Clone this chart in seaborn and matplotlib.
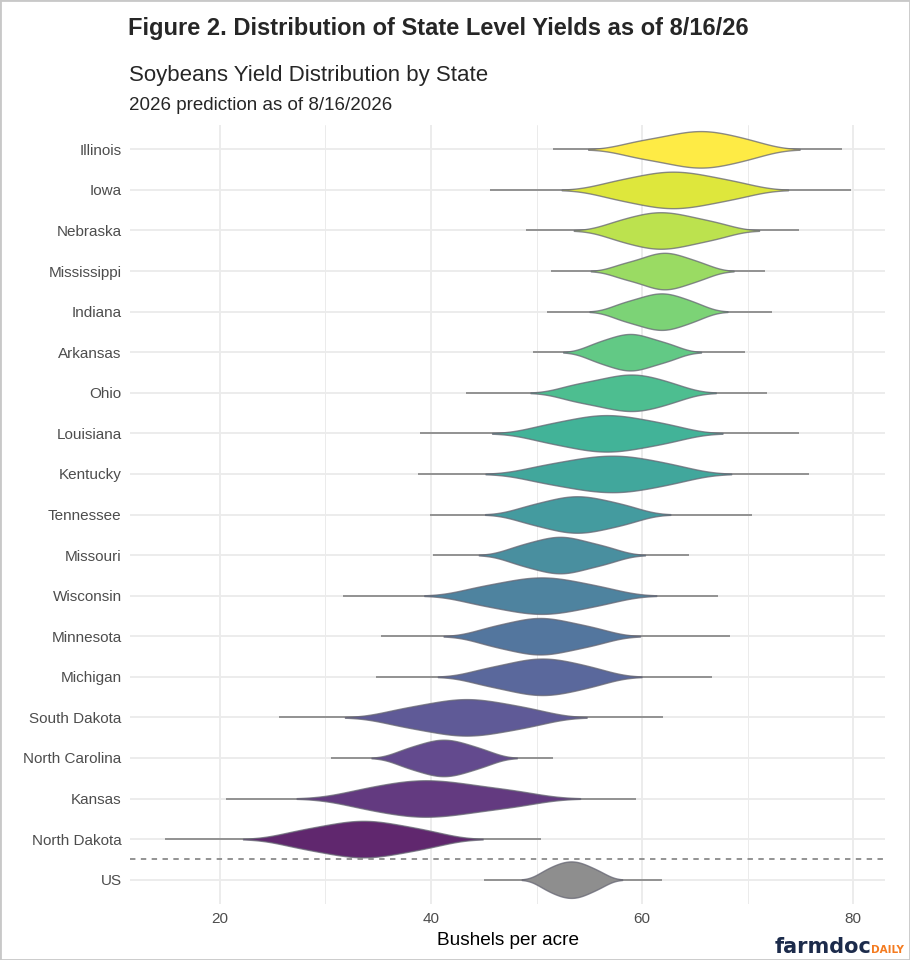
import numpy as np
import pandas as pd
import seaborn as sns
import matplotlib.pyplot as plt
from matplotlib.patches import Rectangle

states = ["Illinois", "Iowa", "Nebraska", "Mississippi", "Indiana", "Arkansas",
          "Ohio", "Louisiana", "Kentucky", "Tennessee", "Missouri", "Wisconsin",
          "Minnesota", "Michigan", "South Dakota", "North Carolina", "Kansas",
          "North Dakota", "US"]

# lowest / highest yield of each state (thin tail of the violin)
tail_lo = [51.6, 45.6, 49.0, 51.4, 51.0, 49.7, 43.3, 39.0, 38.8, 39.9,
           40.2, 31.7, 35.3, 34.8, 25.6, 30.5, 20.6, 14.8, 45.0]
tail_hi = [78.9, 79.8, 74.9, 71.6, 72.3, 69.7, 71.8, 74.9, 75.8, 70.4,
           64.4, 67.2, 68.3, 66.6, 62.0, 51.6, 59.4, 50.4, 61.9]

# yields
body_pts = [
    [59.3, 61.7, 63.4, 64.7, 65.8, 67.0, 68.4, 70.5],  # Illinois
    [57.1, 59.5, 61.1, 62.4, 63.6, 65.0, 66.6, 69.1],  # Iowa
    [57.4, 59.2, 60.5, 61.5, 62.5, 63.7, 65.1, 67.2],  # Nebraska
    [58.1, 59.8, 60.9, 61.7, 62.4, 63.2, 64.2, 65.7],  # Mississippi
    [57.9, 59.4, 60.5, 61.3, 62.1, 62.8, 63.8, 65.2],  # Indiana
    [55.4, 56.8, 57.8, 58.6, 59.3, 60.1, 61.2, 62.7],  # Arkansas
    [53.3, 55.4, 56.9, 58.1, 59.1, 60.1, 61.3, 63.1],  # Ohio
    [50.6, 53.1, 54.7, 56.1, 57.3, 58.7, 60.4, 62.8],  # Louisiana
    [50.3, 53.0, 54.8, 56.2, 57.8, 59.0, 60.8, 63.3],  # Kentucky
    [49.0, 51.0, 52.3, 53.4, 54.4, 55.5, 56.9, 58.8],  # Tennessee
    [48.0, 49.7, 50.9, 51.9, 52.7, 53.7, 55.0, 56.8],  # Missouri
    [44.2, 46.7, 48.4, 49.8, 51.0, 52.4, 54.0, 56.5],  # Wisconsin
    [45.3, 47.3, 48.8, 49.9, 50.9, 52.1, 53.6, 55.7],  # Minnesota
    [44.9, 47.2, 48.7, 49.9, 51.0, 52.2, 53.6, 55.7],  # Michigan
    [36.9, 39.5, 41.3, 42.7, 44.0, 45.4, 47.2, 49.7],  # South Dakota
    [37.4, 38.9, 40.0, 40.8, 41.6, 42.5, 43.5, 45.1],  # North Carolina
    [33.2, 35.9, 37.8, 39.3, 40.8, 42.7, 44.9, 48.2],  # Kansas
    [27.2, 29.8, 31.5, 33.0, 34.2, 35.6, 37.4, 39.9],  # North Dakota
    [50.7, 51.7, 52.4, 53.0, 53.6, 54.2, 54.9, 56.0],  # US
]

df = pd.DataFrame({
    "state": np.repeat(states, [len(p) for p in body_pts]),
    "yield": np.concatenate(body_pts),
})

# full viridis range (yellow top, purple bottom), alpha ~0.85 on white, US grey
vir = plt.get_cmap("viridis")(np.linspace(1, 0, len(states) - 1))[:, :3]
fills = [tuple(0.85 * c + 0.15) for c in vir] + ["#8e8e8e"]
pal = dict(zip(states, fills))

sns.set_theme(style="whitegrid")
plt.rcParams["font.family"] = ["Liberation Sans", "DejaVu Sans"]

fig = plt.figure(figsize=(9.1, 9.6), dpi=100)
ax = fig.add_axes([130 / 910, 1 - 904 / 960, 755 / 910, 779 / 960])

ax.hlines(range(len(states)), tail_lo, tail_hi, color="#7a7a7a", lw=1.1, zorder=0.9)

sns.violinplot(data=df, x="yield", y="state", order=states, hue="state",
               palette=pal, legend=False, density_norm="width", width=0.9,
               inner=None, cut=2.3, bw_adjust=0.8, saturation=1,
               linecolor=(0.4, 0.4, 0.45, 0.75), linewidth=1, ax=ax)

ax.axhline(17.5, color="#8a8a8a", lw=1.3, ls=(0, (3, 3)))

ax.set_xlim(11.5, 83.0)
ax.set_ylim(18.6, -0.6)
ax.set_xticks([20, 40, 60, 80])
ax.set_xticks([30, 50, 70], minor=True)
ax.grid(which="major", color="#ebebeb", lw=1.3)
ax.grid(which="minor", axis="x", color="#ebebeb", lw=0.7)
ax.set_axisbelow(True)
for s in ax.spines.values():
    s.set_visible(False)
ax.tick_params(which="both", length=0, labelsize=11, labelcolor="#4d4d4d")
ax.tick_params(axis="y", pad=6)
ax.tick_params(axis="x", pad=6)
ax.set_ylabel("")
ax.set_xlabel("Bushels per acre", fontsize=13.7, color="black", labelpad=4)

fig.text(438 / 910, 1 - 29 / 960, "Figure 2. Distribution of State Level Yields as of 8/16/26",
         ha="center", va="center", fontsize=17, weight="bold")
fig.text(129 / 910, 1 - 76 / 960, "Soybeans Yield Distribution by State",
         ha="left", va="center", fontsize=16)
fig.text(129 / 910, 1 - 105 / 960, "2026 prediction as of 8/16/2026",
         ha="left", va="center", fontsize=13.5)

# farmdocDAILY logo, right aligned
t2 = fig.text(904 / 910, 1 - 953 / 960, "DAILY", family="DejaVu Sans",
              weight="bold", fontsize=7.5, color="#f47b20", ha="right", va="baseline")
fig.canvas.draw()
bb = t2.get_window_extent()
fig.text(bb.x0 / 910, 1 - 953 / 960, "farmdoc", family="DejaVu Sans",
         weight="bold", fontsize=15, color="#1c2b4b", ha="right", va="baseline")

fig.patches.append(Rectangle((0, 0), 1, 1, transform=fig.transFigure,
                             fill=False, ec="#c8c8c8", lw=2))

fig.savefig("out.png", dpi=100)
